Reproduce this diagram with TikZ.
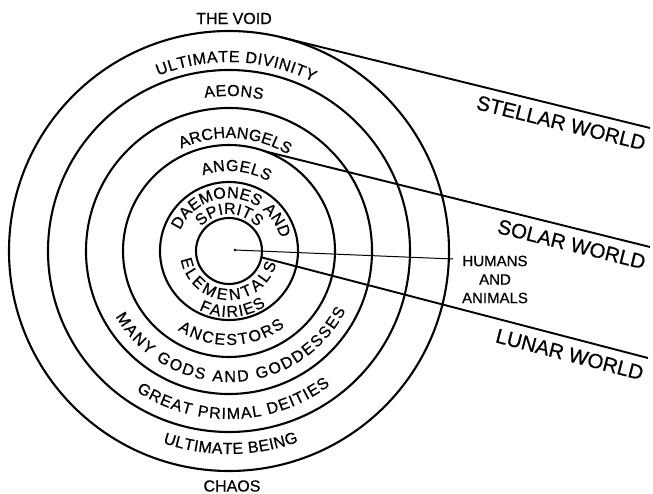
\documentclass[tikz,border=0pt]{standalone}
\usepackage{fontspec}
\setmainfont{Liberation Sans}[FakeBold=0.6]
\usetikzlibrary{decorations.text,positioning,calc}

\newcommand\ringsize{\fontsize{16}{18}\selectfont}
\newcommand\worldsize{\fontsize{20.5}{24}\selectfont}

\tikzset{
  ring/.style={line width=2.1pt},
  world/.style={line width=1.9pt},
  ringtext/.style={decorate,decoration={text along path,text align=fit to path,text={|\ringsize|#1}}},
  worldlabel/.style={sloped,pos=1,anchor=north east,inner xsep=0pt,inner ysep=8pt,font=\worldsize}
}

\begin{document}
\begin{tikzpicture}[x=1pt,y=1pt]
  \useasboundingbox (-229,-243) rectangle (424,251);
  \coordinate (O) at (0,0);

  % the spheres
  \foreach \r in {33,69,106,143,181,220}
    \draw[ring] (O) circle (\r pt);

  \node[font=\ringsize] (void) at (5,232.5) {THE VOID};
  \node[font=\ringsize] (chaos) at (3,-235) {CHAOS};

  % upper half
  \path[ringtext={ULTIMATE DIVINITY}] (112:189pt) arc[start angle=112,end angle=63.5,radius=189pt];
  \path[ringtext={AEONS}] (99:155pt) arc[start angle=99,end angle=77.5,radius=155pt];
  \path[ringtext={ARCHANGELS}] (115:113pt) arc[start angle=115,end angle=58.5,radius=113pt];
  \path[ringtext={ANGELS}] (109:80pt) arc[start angle=109,end angle=60.5,radius=80pt];
  \path[ringtext={DAEMONES AND}] (157:53pt) arc[start angle=157,end angle=14,radius=53pt];
  \path[ringtext={SPIRITS}] (139:37pt) arc[start angle=139,end angle=40,radius=37pt];

  % lower half
  \path[ringtext={ULTIMATE BEING}] (251:203pt) arc[start angle=251,end angle=290,radius=203pt];
  \path[ringtext={GREAT PRIMAL DEITIES}] (236.5:168pt) arc[start angle=236.5,end angle=307,radius=168pt];
  \path[ringtext={MANY GODS AND GODDESSES}] (210:131pt) arc[start angle=210,end angle=333,radius=131pt];
  \path[ringtext={ANCESTORS}] (237:94pt) arc[start angle=237,end angle=306.5,radius=94pt];
  \path[ringtext={FAIRIES}] (243:66pt) arc[start angle=243,end angle=304,radius=66pt];
  \path[ringtext={ELEMENTALS}] (190:49pt) arc[start angle=190,end angle=345,radius=49pt];

  % the three worlds
  \coordinate (stellar-a) at (76:220pt);
  \coordinate (stellar-b) at (421,123);
  \coordinate (solar-a) at (70:106pt);
  \coordinate (solar-b) at (421,4);
  \coordinate (lunar-a) at (-11:33pt);
  \coordinate (lunar-b) at (419,-107);
  \draw[world] (stellar-a) -- (stellar-b) node[worldlabel] (stellar) {STELLAR WORLD};
  \draw[world] (solar-a) -- (solar-b) node[worldlabel] (solar) {SOLAR WORLD};
  \draw[world] (lunar-a) -- (lunar-b) node[worldlabel] (lunar) {LUNAR WORLD};

  % humans and animals
  \coordinate (eye) at (6,1);
  \coordinate (humans-end) at (224,-8);
  \fill (eye) circle (1.3pt);
  \draw[line width=1pt] (eye) -- (humans-end);
  \node[font=\fontsize{15}{18.5}\selectfont,align=center] (humans) at (266,-28.5) {HUMANS\\AND\\ANIMALS};
\end{tikzpicture}
\end{document}
